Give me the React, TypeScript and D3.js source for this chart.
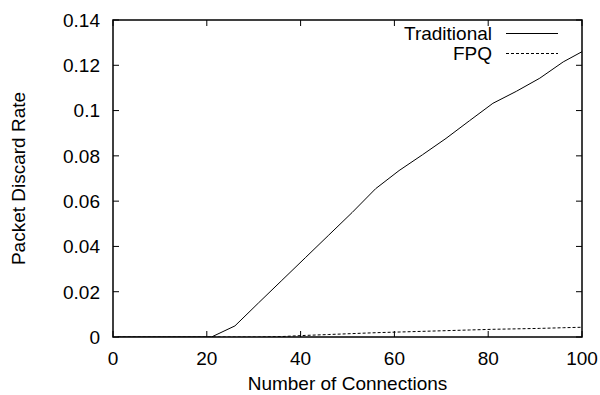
import React from "react";
import * as d3 from "d3";

const connections = [1, 6, 11, 16, 21, 26, 31, 36, 41, 46, 51, 56, 61, 66, 71, 76, 81, 86, 91, 96, 100];
const traditional = [0, 0, 0, 0, 0, 0.0049, 0.015, 0.025, 0.035, 0.045, 0.055, 0.0655, 0.0735, 0.0805, 0.0877, 0.0955, 0.1032, 0.1085, 0.1143, 0.1215, 0.126];
const fpq = [0, 0, 0, 0, 0, 0, 0, 0.0002, 0.0007, 0.0011, 0.0015, 0.0019, 0.0022, 0.0025, 0.0028, 0.0031, 0.0034, 0.0036, 0.0038, 0.0041, 0.0043];
const xTicks = [0, 20, 40, 60, 80, 100];
const yTicks = [0, 0.02, 0.04, 0.06, 0.08, 0.1, 0.12, 0.14];
const seriesNames = ["Traditional", "FPQ"];

const W = 600, H = 395;
const L = 113, R = 582, T = 20, B = 337;
const FONT = "'Liberation Sans', Arial, Helvetica, sans-serif";
const FS = 19;

export default function App() {
  const x = d3.scaleLinear().domain([0, 100]).range([L, R]);
  const y = d3.scaleLinear().domain([0, 0.14]).range([B, T]);
  const line = d3.line<[number, number]>().x(d => x(d[0])).y(d => y(d[1]));
  const tradPts = connections.map((c, i) => [c, traditional[i]] as [number, number]);
  const fpqPts = connections.map((c, i) => [c, fpq[i]] as [number, number]);
  const tl = 6;
  const fmtY = (v: number) => (v === 0 ? "0" : String(+v.toFixed(2)));
  return (
    <svg width={W} height={H} style={{ position: "absolute", left: 0, top: 0, background: "#fff" }} fontFamily={FONT}>
      <defs>
        <clipPath id="plotclip">
          <rect x={L} y={T} width={R - L} height={B - T} />
        </clipPath>
      </defs>
      {yTicks.map(t => (
        <g key={"y" + t}>
          <line x1={L} x2={L + tl} y1={y(t)} y2={y(t)} stroke="#000" strokeWidth={1} />
          <line x1={R} x2={R - tl} y1={y(t)} y2={y(t)} stroke="#000" strokeWidth={1} />
          <text x={L - 13} y={y(t)} dy="0.36em" textAnchor="end" fontSize={FS} fill="#000">{fmtY(t)}</text>
        </g>
      ))}
      {xTicks.map(t => (
        <g key={"x" + t}>
          <line x1={x(t)} x2={x(t)} y1={B} y2={B - tl} stroke="#000" strokeWidth={1} />
          <line x1={x(t)} x2={x(t)} y1={T} y2={T + tl} stroke="#000" strokeWidth={1} />
          <text x={x(t)} y={365} textAnchor="middle" fontSize={FS} fill="#000">{t}</text>
        </g>
      ))}
      <g clipPath="url(#plotclip)">
        <path d={line(tradPts) || ""} fill="none" stroke="#000" strokeWidth={1} />
        <path d={line(fpqPts) || ""} fill="none" stroke="#000" strokeWidth={1} strokeDasharray="3,2" />
      </g>
      <rect x={L} y={T} width={R - L} height={B - T} fill="none" stroke="#000" strokeWidth={1.5} />
      <text x={492} y={39.5} textAnchor="end" fontSize={FS} fill="#000">{seriesNames[0]}</text>
      <line x1={506} x2={558} y1={33.5} y2={33.5} stroke="#000" strokeWidth={1} />
      <text x={492} y={59.5} textAnchor="end" fontSize={FS} fill="#000">{seriesNames[1]}</text>
      <line x1={506} x2={558} y1={53.5} y2={53.5} stroke="#000" strokeWidth={1} strokeDasharray="3,2" />
      <text x={(L + R) / 2} y={390} textAnchor="middle" fontSize={FS} fill="#000">Number of Connections</text>
      <text transform={`translate(25,${(T + B) / 2}) rotate(-90)`} textAnchor="middle" fontSize={FS} fill="#000">Packet Discard Rate</text>
    </svg>
  );
}
